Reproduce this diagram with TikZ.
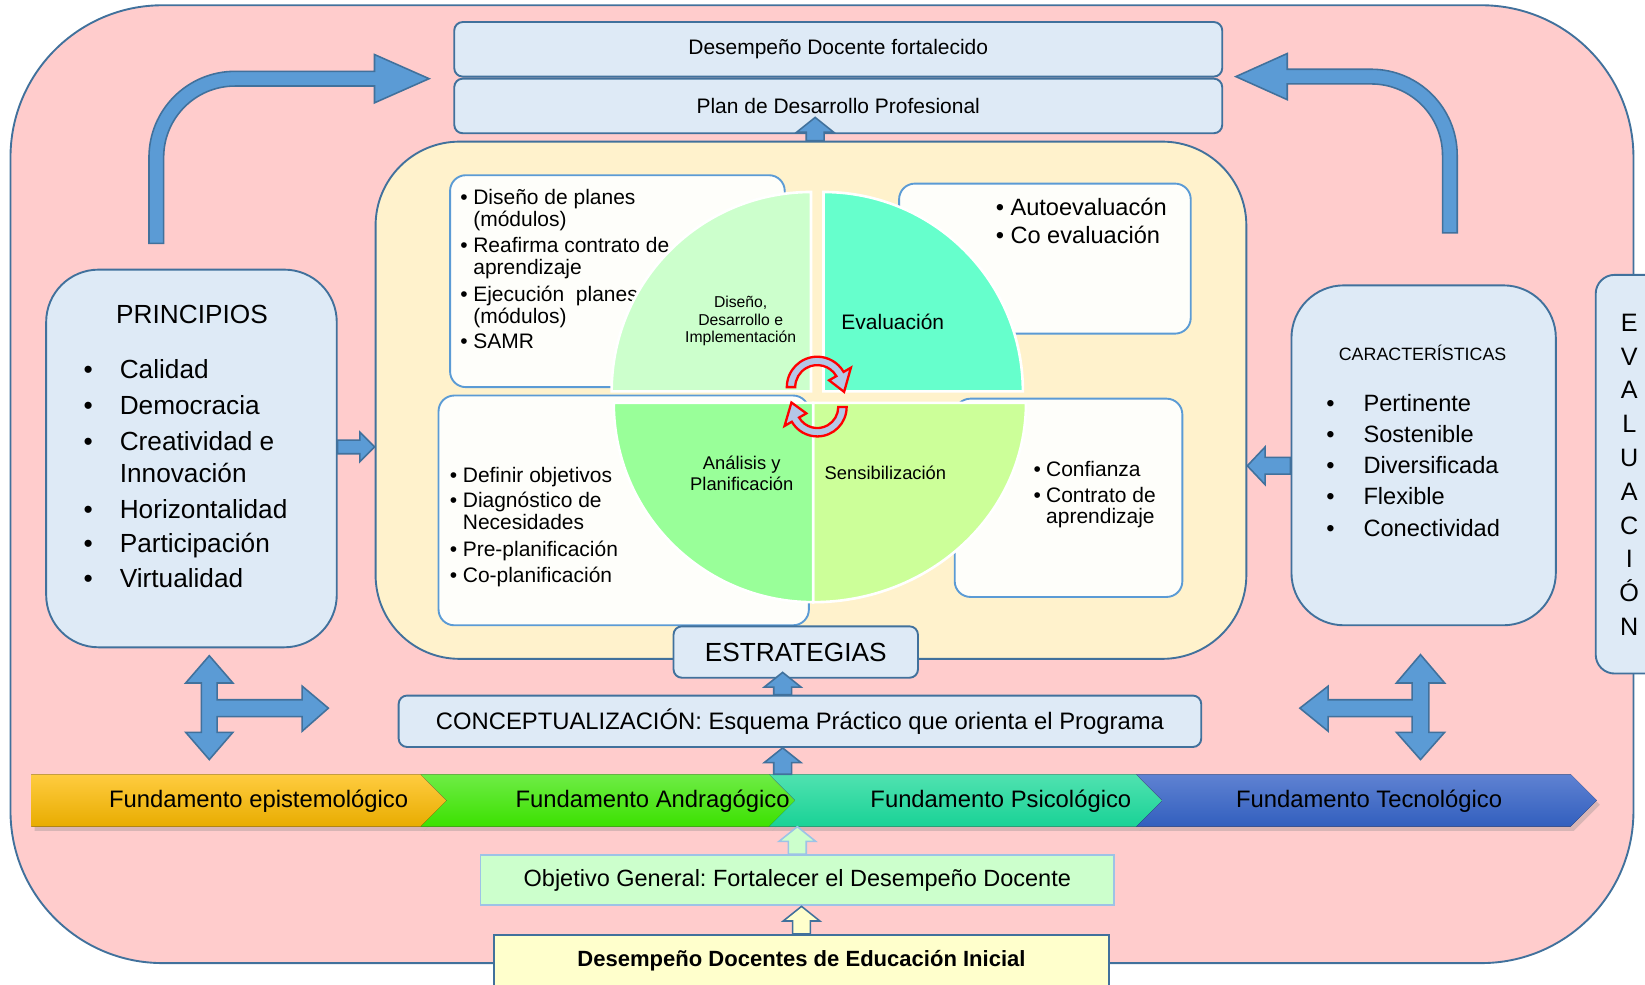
\documentclass[tikz,border=0pt]{standalone}
\usepackage{fontspec}
\setmainfont{Liberation Sans}
\usetikzlibrary{calc,shadows}
\frenchspacing

\definecolor{pinkbg}{RGB}{255,204,204}
\definecolor{frame}{RGB}{65,113,156}
\definecolor{paleblue}{RGB}{222,234,246}
\definecolor{cream}{RGB}{255,242,204}
\definecolor{litframe}{RGB}{91,155,213}
\definecolor{arrowblue}{RGB}{91,155,213}
\definecolor{paper}{RGB}{254,254,250}
\definecolor{mintq}{RGB}{204,255,204}
\definecolor{aquaq}{RGB}{102,255,204}
\definecolor{greenq}{RGB}{153,255,153}
\definecolor{limeq}{RGB}{204,255,153}
\definecolor{objframe}{RGB}{157,195,230}
\definecolor{basefill}{RGB}{255,255,204}
\definecolor{cycfill}{RGB}{180,199,231}

\newcommand{\itm}[2][12.5pt]{\makebox[#1][l]{\textbullet}#2}
\newcommand{\cnt}[2][12.5pt]{\hspace*{#1}#2}

% block arrows between boxes
\newcommand{\blkup}[4][blockarrow]{%
  \draw[#1] let \p1=(#2), \p2=(#3), \p3=(#4) in
    (\x1-8.5pt,\y2) -- (\x1-8.5pt,\y3-14pt) -- (\x1-17.5pt,\y3-14pt) -- (\x1,\y3)
    -- (\x1+17.5pt,\y3-14pt) -- (\x1+8.5pt,\y3-14pt) -- (\x1+8.5pt,\y2) -- cycle;}
\newcommand{\blkright}[3][blockarrow]{%
  \draw[#1] let \p1=(#2), \p2=(#3) in
    (\x1,\y1+6.5pt) -- (\x2-14pt,\y1+6.5pt) -- (\x2-14pt,\y1+14pt) -- (\x2,\y1)
    -- (\x2-14pt,\y1-14pt) -- (\x2-14pt,\y1-6.5pt) -- (\x1,\y1-6.5pt) -- cycle;}
\newcommand{\blkleft}[3][blockarrow]{%
  \draw[#1] let \p1=(#2), \p2=(#3) in
    (\x1,\y1+8pt) -- (\x2+17pt,\y1+8pt) -- (\x2+17pt,\y1+18pt) -- (\x2,\y1)
    -- (\x2+17pt,\y1-18pt) -- (\x2+17pt,\y1-8pt) -- (\x1,\y1-8pt) -- cycle;}

\tikzset{
  fs/.style={font=\fontsize{#1}{#1}\selectfont},
  bluebox/.style={draw=frame, line width=1.8pt, fill=paleblue, rounded corners=8pt, inner sep=0pt},
  listbox/.style={draw=litframe, line width=1.8pt, fill=paper, rounded corners=15pt},
  quad/.style={draw=white, line width=2.5pt},
  blockarrow/.style={draw=frame, line width=1.5pt, fill=arrowblue},
  lightarrow/.style={draw=objframe, line width=1.5pt, fill=mintq},
  creamarrow/.style={draw=frame, line width=1.5pt, fill=basefill},
  cyclearrow/.style={draw=red, line width=2.2pt, fill=cycfill},
  line/.style={anchor=base west, inner sep=0pt},
  chevron/.style={drop shadow={shadow xshift=3pt, shadow yshift=-4pt, opacity=0.3}}
}

\begin{document}
\begin{tikzpicture}[x=1pt,y=-1pt]
\useasboundingbox (0,0) rectangle (1568,938);

% frame
\draw[draw=frame, line width=1.8pt, fill=pinkbg, rounded corners=145pt] (10,5) rectangle (1557,918);

\node[bluebox, fs=20, minimum width=732pt, minimum height=52pt] (fort) at (799,47) {Desempeño Docente fortalecido};
\node[bluebox, fs=20, minimum width=732pt, minimum height=52pt] (plan) at (799,101) {Plan de Desarrollo Profesional};

% curved arrows to the top
\draw[blockarrow] (156,232) -- (142,232) -- (142,150) arc[start angle=180,end angle=270,radius=82]
  -- (357,68) -- (357,52) -- (409,75) -- (357,98) -- (357,82) -- (224,82)
  arc[start angle=270,end angle=180,radius=68] -- cycle;
\draw[blockarrow] (1375,222) -- (1389,222) -- (1389,148) arc[start angle=0,end angle=-90,radius=82]
  -- (1227,66) -- (1227,51) -- (1178,73) -- (1227,95) -- (1227,80) -- (1307,80)
  arc[start angle=-90,end angle=0,radius=68] -- cycle;

% strategies block
\node[draw=frame, line width=1.8pt, fill=cream, rounded corners=80pt, minimum width=830pt, minimum height=493pt] (core) at (773,381.5) {};
\blkup{[xshift=4pt]core.north}{core.north}{[yshift=16pt]plan.south}

\node[listbox, minimum width=319pt, minimum height=202pt] (tlbox) at (588.5,268) {};
\node[listbox, minimum width=278pt, minimum height=143pt] (trbox) at (996,246.5) {};
\node[listbox, minimum width=353pt, minimum height=219pt] (blbox) at (594.5,486.5) {};
\node[listbox, minimum width=217pt, minimum height=189pt] (brbox) at (1018.5,474.5) {};

\foreach \y/\t [count=\i] in {195/\itm{Diseño de planes}, 216/\cnt{(módulos)},
    241/\itm{Reafirma contrato de}, 262/\cnt{aprendizaje}, 287/\itm{Ejecución~ planes},
    308/\cnt{(módulos)}, 332/\itm{SAMR}}
  \node[line, fs=20] (tl\i) at (438.5,\y) {\t};
\foreach \y/\t [count=\i] in {205/\itm[14pt]{Autoevaluacón}, 232.5/\itm[14pt]{Co evaluación}}
  \node[line, fs=22.5] (tr\i) at (949,\y) {\t};
\foreach \y/\t [count=\i] in {459.5/\itm{Definir objetivos}, 484/\itm{Diagnóstico de},
    505/\cnt{Necesidades}, 530/\itm{Pre-planificación}, 555/\itm{Co-planificación}}
  \node[line, fs=20] (bl\i) at (428.5,\y) {\t};
\foreach \y/\t [count=\i] in {454.5/\itm[12pt]{Confianza}, 478.5/\itm[12pt]{Contrato de},
    499/\cnt[12pt]{aprendizaje}}
  \node[line, fs=20] (br\i) at (985,\y) {\t};

% cycle
\filldraw[quad, fill=mintq] (773,373) -- ++(180:190) arc[start angle=180,end angle=270,radius=190] -- cycle;
\filldraw[quad, fill=aquaq] (785,373) -- ++(270:190) arc[start angle=270,end angle=360,radius=190] -- cycle;
\filldraw[quad, fill=limeq] (775,384) -- ++(0:203) arc[start angle=0,end angle=90,x radius=203,y radius=190] -- cycle;
\filldraw[quad, fill=greenq] (775,384) -- ++(90:190) arc[start angle=90,end angle=180,radius=190] -- cycle;

\node[align=center, font=\fontsize{15}{16.5}\selectfont] (qtl) at (706,306) {Diseño,\\Desarrollo e\\Implementación};
\node[fs=20] (qtr) at (851,307) {Evaluación};
\node[align=center, font=\fontsize{17.5}{19.5}\selectfont] (qbl) at (707,451) {Análisis y\\Planificación};
\node[fs=17.5] (qbr) at (844,451) {Sensibilización};

\coordinate (c1) at (779,369);
\coordinate (c2) at (779,388);
\filldraw[cyclearrow] ($(c1)+(180:29)$) arc[start angle=180,end angle=330,radius=29]
  -- ($(c1)+(330:37)$) -- ($(c1)+(10:26)$) -- ($(c1)+(330:13)$) -- ($(c1)+(330:21)$)
  arc[start angle=330,end angle=180,radius=21] -- cycle;
\filldraw[cyclearrow] ($(c2)+(0:28)$) arc[start angle=0,end angle=150,radius=28]
  -- ($(c2)+(150:36)$) -- ($(c2)+(190:25)$) -- ($(c2)+(150:12)$) -- ($(c2)+(150:20)$)
  arc[start angle=150,end angle=0,radius=20] -- cycle;

% side boxes
\node[bluebox, rounded corners=50pt, minimum width=277pt, minimum height=360pt] (principios) at (182.5,437) {};
\node[anchor=base, fs=25] (prtitle) at (183,308) {PRINCIPIOS};
\foreach \y/\t [count=\i] in {361/\itm[34.4pt]{Calidad}, 395/\itm[34.4pt]{Democracia},
    429/\itm[34.4pt]{Creatividad e}, 460/\cnt[34.4pt]{Innovación}, 494/\itm[34.4pt]{Horizontalidad},
    527/\itm[34.4pt]{Participación}, 560/\itm[34.4pt]{Virtualidad}}
  \node[line, fs=25] (pr\i) at (79.6,\y) {\t};
\blkright{[yshift=11pt]principios.east}{core.west}

\node[bluebox, rounded corners=50pt, minimum width=252pt, minimum height=324pt] (caract) at (1357,434) {};
\node[anchor=base, fs=17] (catitle) at (1356,344) {CARACTERÍSTICAS};
\foreach \y/\t [count=\i] in {392.5/\itm[35.5pt]{Pertinente}, 422/\itm[35.5pt]{Sostenible},
    451/\itm[35.5pt]{Diversificada}, 481/\itm[35.5pt]{Flexible}, 511.5/\itm[35.5pt]{Conectividad}}
  \node[line, fs=22.5] (ca\i) at (1264,\y) {\t};
\blkleft{[yshift=-10pt]caract.west}{core.east}

\node[bluebox, rounded corners=18pt, minimum width=79pt, minimum height=380pt] (evalbox) at (1560.5,452) {};
\foreach \l [count=\i] in {E,V,A,L,U,A,C,I,Ó,N}
  \node[anchor=base, fs=24] (ev\i) at (1553,{283.6+32.2*\i}) {\l};

% estrategias and conceptualization
\node[bluebox, fs=25, minimum width=233pt, minimum height=49pt] (estrat) at (758.5,621.5) {ESTRATEGIAS};
\node[bluebox, fs=22.7, minimum width=765pt, minimum height=49pt] (concept) at (762.5,687.5) {CONCEPTUALIZACIÓN: Esquema Práctico que orienta el Programa};
\blkup{[xshift=-16.5pt]concept.north}{concept.north}{[yshift=6pt]estrat.south}

% two-way arrows
\draw[blockarrow] (199.5,625) -- (222,651) -- (207,651) -- (207,667) -- (288,667) -- (288,654)
  -- (313,675) -- (288,697) -- (288,683) -- (207,683) -- (207,698) -- (222,698) -- (199.5,724)
  -- (177,698) -- (192,698) -- (192,651) -- (177,651) -- cycle;
\draw[blockarrow] (1354,624) -- (1377,651) -- (1362,651) -- (1362,698) -- (1377,698) -- (1354,724)
  -- (1331,698) -- (1346,698) -- (1346,683) -- (1266,683) -- (1266,697) -- (1239,675)
  -- (1266,654) -- (1266,667) -- (1346,667) -- (1346,651) -- (1331,651) -- cycle;

% foundations
\fill[chevron, top color={rgb,255:red,255;green,204;blue,64}, bottom color={rgb,255:red,232;green,172;blue,0}]
  (30,738) -- (401,738) -- (426,763) -- (401,788) -- (30,788) -- cycle;
\fill[chevron, top color={rgb,255:red,110;green,236;blue,70}, bottom color={rgb,255:red,60;green,225;blue,0}]
  (401,738) -- (733,738) -- (758,763) -- (733,788) -- (401,788) -- (426,763) -- cycle;
\fill[chevron, top color={rgb,255:red,80;green,226;blue,176}, bottom color={rgb,255:red,25;green,210;blue,150}]
  (733,738) -- (1083,738) -- (1108,763) -- (1083,788) -- (733,788) -- (758,763) -- cycle;
\fill[chevron, top color={rgb,255:red,95;green,130;blue,210}, bottom color={rgb,255:red,50;green,95;blue,190}]
  (1083,738) -- (1497,738) -- (1522,763) -- (1497,788) -- (1083,788) -- (1108,763) -- cycle;
\node[anchor=base, fs=22.7] (f1) at (246.5,770) {Fundamento epistemológico};
\node[anchor=base, fs=22.7] (f2) at (622,770) {Fundamento Andragógico};
\node[anchor=base, fs=22.7] (f3) at (954,770) {Fundamento Psicológico};
\node[anchor=base, fs=22.7] (f4) at (1305,770) {Fundamento Tecnológico};
\coordinate (rowtop) at (746,738);
\coordinate (rowbot) at (760,788);
\blkup{[xshift=-16.5pt]concept.south}{rowtop}{concept.south}

% objective and base
\node[draw=objframe, line width=1.8pt, fill=mintq, fs=22.4, minimum width=604pt, minimum height=48pt] (objetivo) at (760,839) {Objetivo General: Fortalecer el Desempeño Docente};
\blkup[lightarrow]{objetivo.north}{objetivo.north}{rowbot}
\node[draw=frame, line width=1.8pt, fill=basefill, minimum width=586pt, minimum height=50pt, font=\bfseries\fontsize{21}{21}\selectfont] (base) at (764,916) {Desempeño Docentes de Educación Inicial};
\blkup[creamarrow]{base.north}{base.north}{objetivo.south}

\end{tikzpicture}
\end{document}
